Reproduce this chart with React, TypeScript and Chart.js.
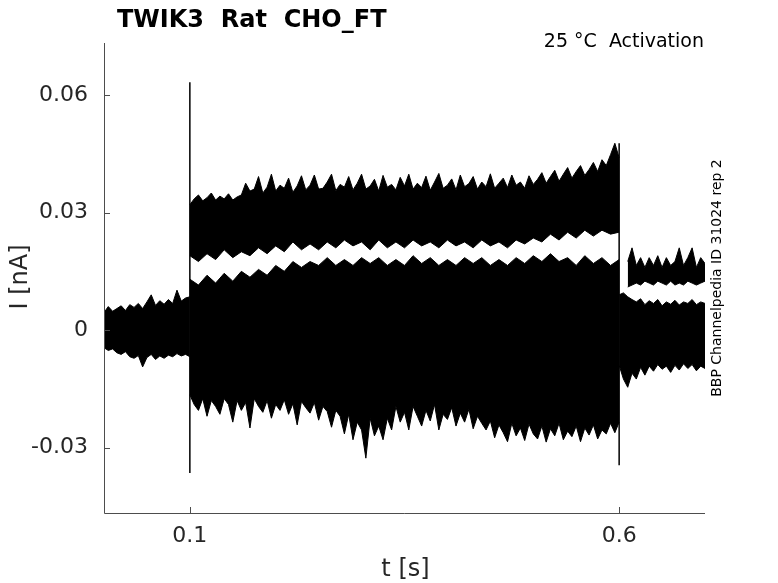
import React, { useEffect, useRef } from 'react';
import Chart from 'chart.js/auto';

// sample times (s) and envelope values (nA)
const preTime = [0, 0.005, 0.01, 0.015, 0.02, 0.025, 0.03, 0.035, 0.04, 0.045, 0.05, 0.055, 0.06, 0.065, 0.07, 0.075, 0.08, 0.085, 0.09, 0.095, 0.1];
const preUpper = [0.0045, 0.006, 0.0048, 0.0055, 0.0062, 0.005, 0.0065, 0.0058, 0.0068, 0.0055, 0.0072, 0.009, 0.0063, 0.0075, 0.0066, 0.0078, 0.0068, 0.0102, 0.0074, 0.0082, 0.0085];
const preLower = [-0.0045, -0.0052, -0.0048, -0.0058, -0.0062, -0.0055, -0.0068, -0.0072, -0.0065, -0.0094, -0.007, -0.0062, -0.0075, -0.0066, -0.0072, -0.0064, -0.0068, -0.006, -0.0066, -0.0062, -0.0068];

// coarse sampling for the inner edges of the two groups
const stimTime = [0.1, 0.11, 0.12, 0.13, 0.14, 0.15, 0.16, 0.17, 0.18, 0.19, 0.2, 0.21, 0.22, 0.23, 0.24, 0.25, 0.26, 0.27, 0.28, 0.29, 0.3, 0.31, 0.32, 0.33, 0.34, 0.35, 0.36, 0.37, 0.38, 0.39, 0.4, 0.41, 0.42, 0.43, 0.44, 0.45, 0.46, 0.47, 0.48, 0.49, 0.5, 0.51, 0.52, 0.53, 0.54, 0.55, 0.56, 0.57, 0.58, 0.59, 0.6];
// finer sampling for the ragged outer edges
const stimTimeFine = [
	0.1, 0.105, 0.11, 0.115, 0.12, 0.125, 0.13, 0.135, 0.14, 0.145, 0.15, 0.155, 0.16, 0.165, 0.17, 0.175, 0.18, 0.185, 0.19, 0.195,
	0.2, 0.205, 0.21, 0.215, 0.22, 0.225, 0.23, 0.235, 0.24, 0.245, 0.25, 0.255, 0.26, 0.265, 0.27, 0.275, 0.28, 0.285, 0.29, 0.295,
	0.3, 0.305, 0.31, 0.315, 0.32, 0.325, 0.33, 0.335, 0.34, 0.345, 0.35, 0.355, 0.36, 0.365, 0.37, 0.375, 0.38, 0.385, 0.39, 0.395,
	0.4, 0.405, 0.41, 0.415, 0.42, 0.425, 0.43, 0.435, 0.44, 0.445, 0.45, 0.455, 0.46, 0.465, 0.47, 0.475, 0.48, 0.485, 0.49, 0.495,
	0.5, 0.505, 0.51, 0.515, 0.52, 0.525, 0.53, 0.535, 0.54, 0.545, 0.55, 0.555, 0.56, 0.565, 0.57, 0.575, 0.58, 0.585, 0.59, 0.595,
	0.6,
];

// upper group of traces
const topUpper = [
	0.032, 0.0335, 0.0345, 0.033, 0.0338, 0.035, 0.0332, 0.0342, 0.0335, 0.0348, 0.0332, 0.034, 0.0345,
	0.0375, 0.0355, 0.036, 0.0392, 0.035, 0.0365, 0.0398, 0.0355, 0.037, 0.0362, 0.0388, 0.0352, 0.0368, 0.0394, 0.0358, 0.037, 0.0396, 0.036,
	0.0362, 0.0378, 0.0398, 0.0356, 0.0372, 0.0365, 0.0392, 0.0358, 0.0375, 0.0398, 0.036, 0.0368, 0.0385, 0.0355, 0.0395, 0.0365, 0.0372, 0.0358, 0.039, 0.0368,
	0.0398, 0.036, 0.0375, 0.0364, 0.0393, 0.0357, 0.0378, 0.04, 0.0362, 0.037, 0.0386, 0.0358, 0.0396, 0.0366, 0.0374, 0.0392, 0.036, 0.0378, 0.0366, 0.0399,
	0.0362, 0.0375, 0.0388, 0.0364, 0.0396, 0.037, 0.0378, 0.0362, 0.0394, 0.0372,
	0.0385, 0.0402, 0.0375, 0.0392, 0.0408, 0.038, 0.0398, 0.0415, 0.0388, 0.0405, 0.042, 0.0395, 0.041, 0.0428, 0.0405, 0.0435, 0.042, 0.0448, 0.0477, 0.044,
];
const topLower = [0.019, 0.0175, 0.0195, 0.018, 0.0205, 0.0185, 0.02, 0.019, 0.021, 0.0195, 0.0215, 0.02, 0.0225, 0.0205, 0.022, 0.0205, 0.0225, 0.021, 0.023, 0.0215, 0.0225, 0.0205, 0.023, 0.021, 0.0225, 0.021, 0.023, 0.0215, 0.0225, 0.021, 0.023, 0.0215, 0.0225, 0.021, 0.023, 0.0215, 0.0225, 0.021, 0.023, 0.022, 0.0235, 0.0225, 0.0245, 0.023, 0.025, 0.0235, 0.0255, 0.024, 0.0255, 0.0245, 0.025];

// lower, dense group of traces
const midUpper = [0.013, 0.0115, 0.014, 0.012, 0.0145, 0.0125, 0.015, 0.0135, 0.0155, 0.014, 0.0165, 0.015, 0.0175, 0.016, 0.0175, 0.0165, 0.0185, 0.0165, 0.018, 0.0165, 0.0185, 0.017, 0.0185, 0.0165, 0.018, 0.0165, 0.019, 0.017, 0.0185, 0.0165, 0.018, 0.0165, 0.0185, 0.017, 0.0185, 0.0165, 0.018, 0.0165, 0.0185, 0.017, 0.019, 0.0175, 0.0195, 0.0175, 0.0185, 0.0165, 0.019, 0.017, 0.0185, 0.0165, 0.018];
const midLower = [
	-0.0165, -0.019, -0.0205, -0.0175, -0.022, -0.018, -0.0195, -0.0215, -0.0175, -0.019,
	-0.0235, -0.018, -0.0205, -0.0185, -0.025, -0.0175, -0.0195, -0.021, -0.018, -0.0225,
	-0.019, -0.0205, -0.0178, -0.0215, -0.0188, -0.0242, -0.0182, -0.0198, -0.0212, -0.0185,
	-0.023, -0.0195, -0.0208, -0.0248, -0.0205,
	-0.022, -0.0265, -0.0215, -0.028, -0.0235, -0.0255, -0.0327, -0.0225, -0.027, -0.0245, -0.028, -0.0225, -0.0255,
	-0.0195, -0.0235, -0.021, -0.0255, -0.0195, -0.022, -0.0245, -0.0205, -0.0232, -0.019, -0.0255, -0.0215, -0.0228, -0.0198, -0.0245, -0.0212, -0.0235, -0.0202, -0.0252, -0.022, -0.0238,
	-0.0255, -0.0232, -0.0275, -0.0242, -0.0262, -0.0285, -0.0238, -0.027, -0.025, -0.0282, -0.024, -0.0265, -0.0278, -0.0245, -0.0286, -0.0252,
	-0.027, -0.0238, -0.028, -0.0258, -0.0272, -0.0245, -0.0285, -0.025, -0.0268, -0.0242, -0.0278, -0.0255, -0.0265, -0.0238, -0.0262, -0.0235,
];

// after the step: one trace stays up, the rest relax to zero
const tailTime = [0.61, 0.615, 0.62, 0.625, 0.63, 0.635, 0.64, 0.645, 0.65, 0.655, 0.66, 0.665, 0.67, 0.675, 0.68, 0.685, 0.69, 0.695, 0.7];
const tailUpper = [0.0175, 0.021, 0.0165, 0.0185, 0.016, 0.0185, 0.0165, 0.019, 0.016, 0.0185, 0.0165, 0.0175, 0.021, 0.0165, 0.0185, 0.021, 0.016, 0.0185, 0.017];
const tailLower = [0.011, 0.0115, 0.012, 0.0115, 0.0125, 0.012, 0.0115, 0.0125, 0.012, 0.0115, 0.0125, 0.0115, 0.012, 0.0115, 0.0125, 0.012, 0.0115, 0.012, 0.0125];

const postTime = [0.6, 0.605, 0.61, 0.615, 0.62, 0.625, 0.63, 0.635, 0.64, 0.645, 0.65, 0.655, 0.66, 0.665, 0.67, 0.675, 0.68, 0.685, 0.69, 0.695, 0.7];
const postUpper = [0.009, 0.0095, 0.0085, 0.0078, 0.0072, 0.008, 0.0065, 0.0075, 0.0068, 0.0078, 0.0062, 0.0072, 0.0066, 0.0076, 0.0064, 0.0072, 0.0068, 0.0078, 0.0065, 0.0072, 0.0068];
const postLower = [-0.009, -0.0125, -0.0146, -0.011, -0.0125, -0.0095, -0.0115, -0.0092, -0.0105, -0.0088, -0.01, -0.0092, -0.0108, -0.009, -0.0102, -0.0086, -0.0098, -0.0088, -0.0104, -0.0092, -0.0098];

// capacitive transients at step on / off
const onsetTime = [0.1, 0.1];
const onsetCurrent = [0.0633, -0.0365];
const offsetTime = [0.6, 0.6];
const offsetCurrent = [0.0477, -0.0345];

const xTicks = [0.1, 0.6];
const xTickLabels = ['0.1', '0.6'];
const yTicks = [-0.03, 0, 0.03, 0.06];
const yTickLabels = ['-0.03', '0', '0.03', '0.06'];

const FONT = 'DejaVu Sans';

const pts = (t: number[], v: number[]) => t.map((x, i) => ({ x, y: v[i] }));

const edge = (t: number[], v: number[], filled: boolean) => ({
	data: pts(t, v),
	borderColor: '#000',
	backgroundColor: '#000',
	borderWidth: 1,
	pointRadius: 0,
	fill: filled ? '-1' : false,
	tension: 0,
});

const framePlugin = {
	id: 'frame',
	afterDraw(chart: Chart) {
		const { ctx, chartArea } = chart;
		const { left, right, top, bottom } = chartArea;
		const xs = chart.scales.x;
		const ys = chart.scales.y;
		ctx.save();
		ctx.strokeStyle = '#4d4d4d';
		ctx.lineWidth = 1;
		ctx.beginPath();
		ctx.moveTo(left + 0.5, top);
		ctx.lineTo(left + 0.5, bottom + 0.5);
		ctx.lineTo(right, bottom + 0.5);
		yTicks.forEach((v) => {
			const y = Math.round(ys.getPixelForValue(v)) + 0.5;
			ctx.moveTo(left, y);
			ctx.lineTo(left + 6, y);
		});
		xTicks.forEach((v) => {
			const x = Math.round(xs.getPixelForValue(v)) + 0.5;
			ctx.moveTo(x, bottom);
			ctx.lineTo(x, bottom - 6);
		});
		ctx.stroke();

		ctx.fillStyle = '#000';
		ctx.font = `bold 24px ${FONT}`;
		ctx.textAlign = 'left';
		ctx.textBaseline = 'alphabetic';
		ctx.fillText('TWIK3  Rat  CHO_FT', 117, 27);

		ctx.font = `19px ${FONT}`;
		ctx.textAlign = 'right';
		ctx.fillText('25 °C  Activation', 704, 47);

		ctx.fillStyle = '#262626';
		ctx.font = `24px ${FONT}`;
		ctx.textAlign = 'center';
		ctx.fillText('t [s]', (left + right) / 2 + 1, 576);

		ctx.save();
		ctx.translate(27, 277);
		ctx.rotate(-Math.PI / 2);
		ctx.fillText('I [nA]', 0, 0);
		ctx.restore();

		ctx.save();
		ctx.fillStyle = '#000';
		ctx.font = `14px ${FONT}`;
		ctx.translate(721, 278);
		ctx.rotate(-Math.PI / 2);
		ctx.fillText('BBP Channelpedia ID 31024 rep 2', 0, 0);
		ctx.restore();

		ctx.restore();
	},
};

const App: React.FC = () => {
	const canvasRef = useRef<HTMLCanvasElement | null>(null);
	const chartRef = useRef<Chart | null>(null);

	useEffect(() => {
		document.body.style.margin = '0';
		const canvas = canvasRef.current;
		if (!canvas) return;
		const ctx = canvas.getContext('2d');
		if (!ctx) return;

		if (chartRef.current) {
			chartRef.current.destroy();
		}

		chartRef.current = new Chart(ctx, {
			type: 'line',
			data: {
				datasets: [
					edge(preTime, preUpper, false),
					edge(preTime, preLower, true),
					edge(stimTimeFine, topUpper, false),
					edge(stimTime, topLower, true),
					edge(stimTime, midUpper, false),
					edge(stimTimeFine, midLower, true),
					edge(tailTime, tailUpper, false),
					edge(tailTime, tailLower, true),
					edge(postTime, postUpper, false),
					edge(postTime, postLower, true),
					{ ...edge(onsetTime, onsetCurrent, false), borderWidth: 1.5 },
					{ ...edge(offsetTime, offsetCurrent, false), borderWidth: 1.5 },
				],
			},
			options: {
				animation: false,
				responsive: false,
				devicePixelRatio: 1,
				layout: { padding: { left: 0, right: 73, top: 43, bottom: 0 } },
				plugins: {
					legend: { display: false },
					tooltip: { enabled: false },
					title: { display: false },
				},
				scales: {
					x: {
						type: 'linear',
						min: 0,
						max: 0.7,
						grid: { display: false, drawTicks: false },
						border: { display: false },
						afterBuildTicks: (scale: any) => {
							scale.ticks = xTicks.map((value) => ({ value }));
						},
						afterFit: (scale: any) => {
							scale.height = 70;
						},
						ticks: {
							autoSkip: false,
							maxRotation: 0,
							padding: 10,
							color: '#262626',
							font: { family: FONT, size: 22 },
							callback: (_v: any, i: number) => xTickLabels[i],
						},
					},
					y: {
						type: 'linear',
						min: -0.0467,
						max: 0.0733,
						grid: { display: false, drawTicks: false },
						border: { display: false },
						afterBuildTicks: (scale: any) => {
							scale.ticks = yTicks.map((value) => ({ value }));
						},
						afterFit: (scale: any) => {
							scale.width = 104;
						},
						ticks: {
							autoSkip: false,
							padding: 16,
							color: '#262626',
							font: { family: FONT, size: 22 },
							callback: (_v: any, i: number) => yTickLabels[i],
						},
					},
				},
			},
			plugins: [framePlugin],
		} as any);

		return () => {
			if (chartRef.current) {
				chartRef.current.destroy();
				chartRef.current = null;
			}
		};
	}, []);

	return (
		<div style={{ width: 778, height: 583 }}>
			<canvas ref={canvasRef} width={778} height={583} />
		</div>
	);
};

export default App;
